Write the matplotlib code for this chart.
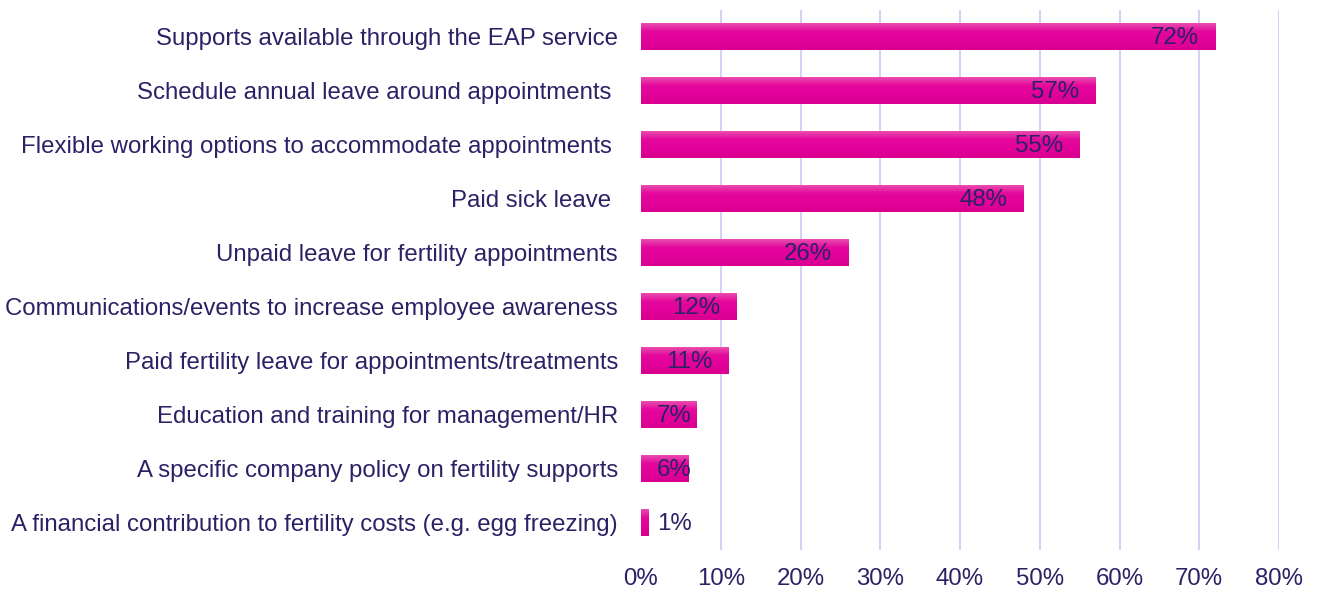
import numpy as np
import matplotlib
matplotlib.use('Agg')
import matplotlib.pyplot as plt
from matplotlib.colors import LinearSegmentedColormap

plt.rcParams['font.family'] = ['Liberation Sans', 'DejaVu Sans']

# data, top to bottom
labels = ['Supports available through the EAP service',
          'Schedule annual leave around appointments ',
          'Flexible working options to accommodate appointments ',
          'Paid sick leave ',
          'Unpaid leave for fertility appointments',
          'Communications/events to increase employee awareness',
          'Paid fertility leave for appointments/treatments',
          'Education and training for management/HR',
          'A specific company policy on fertility supports',
          'A financial contribution to fertility costs (e.g. egg freezing)']
values = [72, 57, 55, 48, 26, 12, 11, 7, 6, 1]
xticks = [0, 10, 20, 30, 40, 50, 60, 70, 80]

navy = '#2b2266'
fs = 17.3

fig = plt.figure(figsize=(13.21, 5.92), dpi=100)
ax = fig.add_axes([641/1321, 42/592, 638/1321, 540.5/592])

y = np.arange(len(values))
bars = ax.barh(y, values, height=0.5, color='#e2069a', zorder=2)

# vertical gradient on each bar
cmap = LinearSegmentedColormap.from_list('pink', ['#ea55b0', '#e4089c', '#e2029a', '#d9008f'])
grad = np.linspace(0, 1, 64).reshape(-1, 1)
for b in bars:
    x0, y0, w, h = b.get_x(), b.get_y(), b.get_width(), b.get_height()
    im = ax.imshow(grad, cmap=cmap, aspect='auto', extent=(x0, x0 + w, y0, y0 + h),
                   origin='lower', zorder=3, interpolation='bilinear')
    im.set_clip_path(b)

# value labels
for yi, v in zip(y, values):
    if v < 10:
        ax.annotate(f'{v}%', (0, yi), xytext=(16, -1.5), textcoords='offset pixels',
                    ha='left', va='center', color=navy, fontsize=fs, zorder=4)
    else:
        ax.annotate(f'{v}%', (v, yi), xytext=(-16, -1.5), textcoords='offset pixels',
                    ha='right', va='center', color=navy, fontsize=fs, zorder=4)

ax.set_xlim(0, 80)
ax.set_ylim(len(values) - 0.5, -0.5)
ax.set_xticks(xticks)
ax.set_xticklabels([f'{t}%' for t in xticks])
ax.set_yticks(y)
ax.set_yticklabels(labels)
ax.tick_params(axis='both', length=0, colors=navy, labelsize=fs)
ax.tick_params(axis='y', pad=16.5)
ax.tick_params(axis='x', pad=13)
for s in ax.spines.values():
    s.set_visible(False)
ax.grid(axis='x', color='#d6d2f6', linewidth=1.5, zorder=0)
ax.xaxis.get_gridlines()[0].set_visible(False)
ax.set_axisbelow(True)

fig.savefig('out.png', dpi=100)
